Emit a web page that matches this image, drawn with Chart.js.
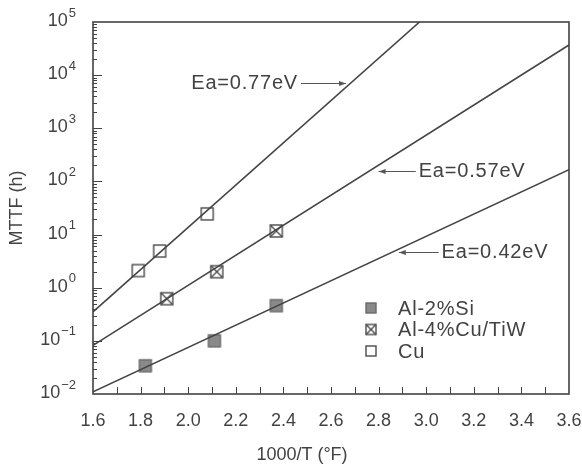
<!DOCTYPE html>
<html>
<head>
<meta charset="utf-8">
<script src="https://cdn.jsdelivr.net/npm/chart.js@4/dist/chart.umd.min.js"></script>
<style>
  html, body { margin: 0; padding: 0; background: #fff; }
  #wrap { width: 582px; height: 473px; }
</style>
</head>
<body>
<div id="wrap"><canvas id="c" width="582" height="473"></canvas></div>
<script>
// Measured median time to failure (h) against 1000/T
const seriesNames = ['Al-2%Si', 'Al-4%Cu/TiW', 'Cu'];
const alSiX = [1.82, 2.11, 2.37];
const alSiY = [0.034, 0.10, 0.46];
const alCuX = [1.91, 2.12, 2.37];
const alCuY = [0.62, 2.0, 11.7];
const cuX = [1.79, 1.88, 2.08];
const cuY = [2.1, 4.9, 24.5];

// Arrhenius fit lines (end points)
const fitLabels = ['Ea=0.77eV', 'Ea=0.57eV', 'Ea=0.42eV'];
const fit077X = [1.6, 2.972];
const fit077Y = [0.35, 100000];
const fit057X = [1.6, 3.6];
const fit057Y = [0.082, 36900];
const fit042X = [1.6, 3.6];
const fit042Y = [0.011, 166];

// Axis ranges, tick labels and titles
const xMin = 1.6, xMax = 3.6, xStep = 0.2;
const yExponents = [-2, -1, 0, 1, 2, 3, 4, 5];
const xTitle = '1000/T (\u00B0F)';
const yTitle = 'MTTF (h)';

const INK = '#424242';
const FONT = "'Liberation Sans', Arial, Helvetica, sans-serif";

const pts = (xs, ys) => xs.map((x, i) => ({ x: x, y: ys[i] }));

// Square markers drawn once on small canvases
function makeMarker(kind, side) {
  const pad = 2;
  const c = document.createElement('canvas');
  c.width = side + pad * 2;
  c.height = side + pad * 2;
  const g = c.getContext('2d');
  g.lineWidth = 1.4;
  g.strokeStyle = '#4a4a4a';
  const x0 = pad, y0 = pad;
  if (kind === 'filled') {
    g.fillStyle = '#8a8a8a';
    g.fillRect(x0, y0, side, side);
    g.strokeStyle = '#6a6a6a';
    g.strokeRect(x0, y0, side, side);
  } else {
    g.fillStyle = '#ffffff';
    g.fillRect(x0, y0, side, side);
    g.strokeRect(x0, y0, side, side);
    if (kind === 'cross') {
      g.beginPath();
      g.moveTo(x0, y0); g.lineTo(x0 + side, y0 + side);
      g.moveTo(x0 + side, y0); g.lineTo(x0, y0 + side);
      g.stroke();
    }
  }
  return c;
}
const markFilled = makeMarker('filled', 12);
const markCross = makeMarker('cross', 12);
const markOpen = makeMarker('open', 12);
const legendMarks = [makeMarker('filled', 10), makeMarker('cross', 10), makeMarker('open', 10)];

// Arrow annotations, in data coordinates: arrow tip, arrow tail, text side
const notes = [
  { text: fitLabels[0], tipX: 2.663, tailX: 2.474, y: 7030, side: 'left' },
  { text: fitLabels[1], tipX: 2.80, tailX: 2.956, y: 158, side: 'right' },
  { text: fitLabels[2], tipX: 2.885, tailX: 3.052, y: 4.72, side: 'right' }
];

const lineDs = (xs, ys) => ({
  type: 'line',
  data: pts(xs, ys),
  borderColor: '#444444',
  borderWidth: 1.6,
  pointRadius: 0,
  fill: false,
  tension: 0
});

const frameAndTicks = {
  id: 'frameAndTicks',
  afterDatasetsDraw(chart) {
    const { ctx, chartArea: a } = chart;
    const xs = chart.scales.x, ys = chart.scales.y;
    ctx.save();
    ctx.strokeStyle = INK;
    ctx.lineWidth = 1;
    ctx.beginPath();
    // inward ticks on the x axis every 0.1
    for (let i = Math.round(xMin * 10) + 1; i < Math.round(xMax * 10); i++) {
      const px = Math.round(xs.getPixelForValue(i / 10)) + 0.5;
      ctx.moveTo(px, a.bottom);
      ctx.lineTo(px, a.bottom - 7);
    }
    // inward log ticks on the y axis
    for (let e = yExponents[0]; e < yExponents[yExponents.length - 1]; e++) {
      for (let m = 1; m <= 9; m++) {
        if (e === yExponents[0] && m === 1) continue;
        const py = Math.round(ys.getPixelForValue(m * Math.pow(10, e))) + 0.5;
        const len = m === 1 ? 9 : 4;
        ctx.moveTo(a.left, py);
        ctx.lineTo(a.left + len, py);
      }
    }
    ctx.stroke();
    // plot frame
    ctx.lineWidth = 1.6;
    ctx.strokeRect(a.left, a.top, a.right - a.left, a.bottom - a.top);
    ctx.restore();
  }
};

const axisTexts = {
  id: 'axisTexts',
  afterDraw(chart) {
    const { ctx, chartArea: a } = chart;
    const ys = chart.scales.y;
    ctx.save();
    ctx.fillStyle = INK;
    ctx.textBaseline = 'middle';
    // powers of ten on the y axis
    const right = a.left - 17;
    yExponents.forEach(e => {
      const py = ys.getPixelForValue(Math.pow(10, e));
      const sup = e < 0 ? '\u2212' + Math.abs(e) : String(e);
      ctx.font = '13px ' + FONT;
      ctx.textAlign = 'right';
      ctx.fillText(sup, right, py - 9);
      const w = ctx.measureText(sup).width;
      ctx.font = '18px ' + FONT;
      ctx.fillText('10', right - w - 1, py - 1);
    });
    // x axis title
    ctx.font = '18px ' + FONT;
    ctx.textAlign = 'center';
    ctx.fillText(xTitle, a.left + 209, chart.height - 18);
    ctx.restore();
  }
};

const notesAndLegend = {
  id: 'notesAndLegend',
  afterDraw(chart) {
    const { ctx, chartArea: a } = chart;
    const xs = chart.scales.x, ys = chart.scales.y;
    ctx.save();
    ctx.letterSpacing = '0.8px';
    ctx.font = '20px ' + FONT;
    ctx.fillStyle = INK;
    ctx.strokeStyle = '#555555';
    ctx.lineWidth = 1;
    ctx.textBaseline = 'middle';
    notes.forEach(n => {
      const tx = xs.getPixelForValue(n.tipX);
      const sx = xs.getPixelForValue(n.tailX);
      const py = Math.round(ys.getPixelForValue(n.y)) + 0.5;
      const dir = Math.sign(tx - sx);
      ctx.beginPath();
      ctx.moveTo(sx, py);
      ctx.lineTo(tx, py);
      ctx.stroke();
      ctx.beginPath();
      ctx.moveTo(tx, py);
      ctx.lineTo(tx - dir * 7, py - 2.5);
      ctx.lineTo(tx - dir * 7, py + 2.5);
      ctx.closePath();
      ctx.fillStyle = '#555555';
      ctx.fill();
      ctx.fillStyle = INK;
      if (n.side === 'left') {
        ctx.textAlign = 'right';
        ctx.fillText(n.text, sx - 3, py);
      } else {
        ctx.textAlign = 'left';
        ctx.fillText(n.text, sx + 3, py);
      }
    });
    // legend inside the plot, lower right
    const lx = a.left + 278;
    const ty = a.bottom - 86;
    ctx.textAlign = 'left';
    seriesNames.forEach((name, i) => {
      const cy = ty + i * 21.5;
      const m = legendMarks[i];
      ctx.drawImage(m, lx - m.width / 2, cy - m.height / 2);
      ctx.fillText(name, lx + 27, cy + 1);
    });
    ctx.restore();
  }
};

Chart.defaults.font.family = FONT;
Chart.defaults.font.size = 18;
Chart.defaults.color = INK;

new Chart(document.getElementById('c'), {
  type: 'scatter',
  data: {
    datasets: [
      lineDs(fit077X, fit077Y),
      lineDs(fit057X, fit057Y),
      lineDs(fit042X, fit042Y),
      { label: seriesNames[0], data: pts(alSiX, alSiY), pointStyle: markFilled, pointRadius: 7 },
      { label: seriesNames[1], data: pts(alCuX, alCuY), pointStyle: markCross, pointRadius: 7 },
      { label: seriesNames[2], data: pts(cuX, cuY), pointStyle: markOpen, pointRadius: 7 }
    ]
  },
  options: {
    responsive: false,
    animation: false,
    events: [],
    layout: { padding: { left: 0, right: 13, top: 22, bottom: 0 } },
    plugins: { legend: { display: false }, tooltip: { enabled: false } },
    scales: {
      x: {
        type: 'linear',
        min: xMin,
        max: xMax,
        afterFit(s) { s.height = 79; s.paddingLeft = 0; s.paddingRight = 0; },
        grid: { display: false, drawTicks: false },
        border: { display: false },
        ticks: {
          stepSize: xStep,
          padding: 16,
          autoSkip: false,
          maxRotation: 0,
          callback: v => Number(v).toFixed(1)
        },
        title: { display: false }
      },
      y: {
        type: 'logarithmic',
        min: Math.pow(10, yExponents[0]),
        max: Math.pow(10, yExponents[yExponents.length - 1]),
        afterFit(s) { s.width = 93; s.paddingTop = 0; s.paddingBottom = 0; },
        grid: { display: false, drawTicks: false },
        border: { display: false },
        ticks: { display: false },
        title: { display: true, text: yTitle, padding: { top: 6, bottom: 0 } }
      }
    }
  },
  plugins: [frameAndTicks, axisTexts, notesAndLegend]
});
</script>
</body>
</html>
